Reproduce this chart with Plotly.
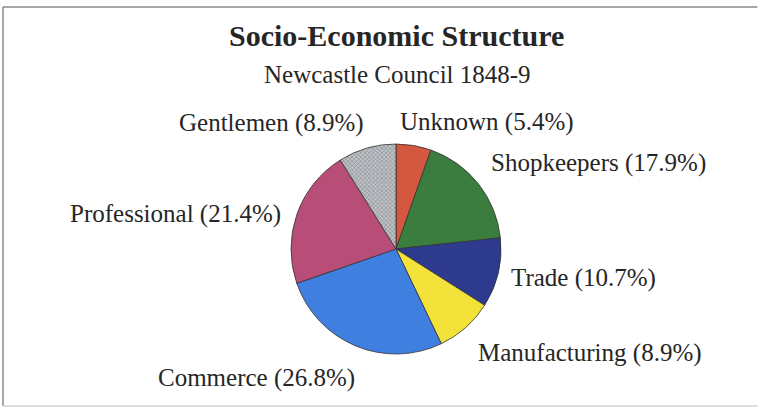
import plotly.graph_objects as go

categories = ["Unknown", "Shopkeepers", "Trade", "Manufacturing", "Commerce", "Professional", "Gentlemen"]
shares = [5.4, 17.9, 10.7, 8.9, 26.8, 21.4, 8.9]
title_text = "Socio-Economic Structure"
subtitle_text = "Newcastle Council 1848-9"

colors = ["#D4573F", "#3A7D3F", "#2E3A8E", "#F2E23A", "#3F7FE0", "#B84D78", "#A9ACB0"]
# label centre positions in pixels (x, y from top)
label_pos = [(487, 122), (598, 163), (583, 278), (590, 353), (256, 378), (175, 214), (271, 123)]

W, H = 769, 410
FONT = "Liberation Serif"

fig = go.Figure()
fig.add_trace(go.Pie(
    labels=categories,
    values=shares,
    sort=False,
    direction="clockwise",
    rotation=0,
    textinfo="none",
    hoverinfo="label+percent",
    showlegend=False,
    marker=dict(
        colors=colors,
        line=dict(color="#333333", width=0.8),
        pattern=dict(
            shape=["", "", "", "", "", "", "x"],
            fgcolor="#80848A",
            bgcolor="#BFC2C6",
            size=3,
            solidity=0.35,
        ),
    ),
    domain=dict(x=[(396 - 105) / W, (396 + 105) / W], y=[1 - 354 / H, 1 - 144 / H]),
))

annotations = [
    dict(text=f"<b>{title_text}</b>", x=396 / W, y=1 - 36 / H, xref="paper", yref="paper",
         showarrow=False, xanchor="center", yanchor="middle",
         font=dict(family=FONT, size=30, color="#262626")),
    dict(text=subtitle_text, x=397 / W, y=1 - 75 / H, xref="paper", yref="paper",
         showarrow=False, xanchor="center", yanchor="middle",
         font=dict(family=FONT, size=25, color="#262626")),
]
for name, val, (px, py) in zip(categories, shares, label_pos):
    annotations.append(dict(
        text=f"{name} ({val}%)", x=px / W, y=1 - py / H, xref="paper", yref="paper",
        showarrow=False, xanchor="center", yanchor="middle",
        font=dict(family=FONT, size=25, color="#262626"),
    ))

frame_line = dict(color="#8A8A8A", width=1.5)
x_left, x_right, y_top, y_bot = 3 / W, 0.985, 1 - 7 / H, 1 - 406 / H
shapes = [
    dict(type="line", xref="paper", yref="paper", x0=x_left, x1=x_right, y0=y_top, y1=y_top, line=frame_line),
    dict(type="line", xref="paper", yref="paper", x0=x_left, x1=x_left, y0=y_bot, y1=y_top, line=frame_line),
    dict(type="line", xref="paper", yref="paper", x0=x_left, x1=x_right, y0=y_bot, y1=y_bot,
         line=dict(color="#D0D0D0", width=1.5)),
]

fig.update_layout(
    width=W, height=H,
    margin=dict(l=0, r=0, t=0, b=0),
    paper_bgcolor="white",
    plot_bgcolor="white",
    annotations=annotations,
    shapes=shapes,
)

fig.write_html("out.html", config={"displayModeBar": False},
               post_script=("document.body.style.margin='0';"
                            "document.body.style.overflow='hidden';"
                            "document.documentElement.style.overflow='hidden';"))
